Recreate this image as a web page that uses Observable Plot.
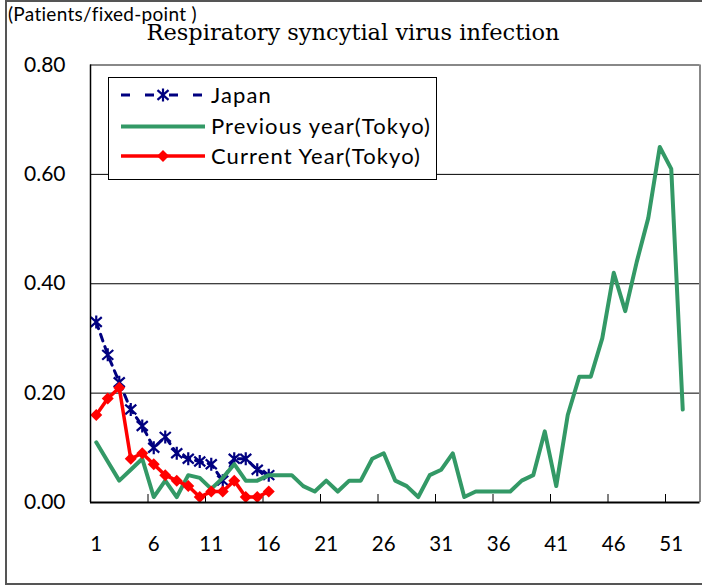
<!DOCTYPE html>
<html><head><meta charset="utf-8">
<script src="https://cdn.jsdelivr.net/npm/d3@7"></script>
<script src="https://cdn.jsdelivr.net/npm/@observablehq/plot@0.6"></script>
<style>
body{margin:0;background:#fff;}
#wrap{position:relative;width:702px;height:586px;overflow:hidden;font-family:Lato,sans-serif;color:#000;}
#border{position:absolute;left:5px;top:0px;width:720px;height:585px;border:2px solid #555;box-sizing:border-box;}
#plot{position:absolute;left:0;top:0;}
#unit{position:absolute;left:8px;top:2px;font-size:19px;letter-spacing:0.3px;white-space:nowrap;}
#title{position:absolute;left:0;width:706px;top:19px;text-align:center;font-family:"DejaVu Serif",serif;font-size:22.5px;white-space:nowrap;}
#legend{position:absolute;left:108px;top:77px;}
</style></head>
<body><div id="wrap"><div id="border"></div><div id="plot"></div>
<div id="unit">(Patients/fixed-point )</div>
<div id="title">Respiratory syncytial virus infection</div>
<div id="legend"></div></div>
<script>
// ---- data ----
const weeksJapan = [1,2,3,4,5,6,7,8,9,10,11,12,13,14,15,16];
const japan = [0.33,0.27,0.22,0.17,0.14,0.10,0.12,0.09,0.08,0.075,0.07,0.04,0.08,0.08,0.06,0.05];
const current = [0.16,0.19,0.21,0.08,0.09,0.07,0.05,0.04,0.03,0.01,0.02,0.02,0.04,0.01,0.01,0.02];
const previous = [0.11,0.075,0.04,0.06,0.08,0.01,0.04,0.01,0.05,0.045,0.025,0.045,0.07,0.04,0.04,0.05,0.05,0.05,0.03,0.02,
  0.04,0.02,0.04,0.04,0.08,0.09,0.04,0.03,0.01,0.05,0.06,0.09,0.01,0.02,0.02,0.02,0.02,0.04,0.05,0.13,
  0.03,0.16,0.23,0.23,0.30,0.42,0.35,0.44,0.52,0.65,0.61,0.17];
const seriesNames = ["Japan","Previous year(Tokyo)","Current Year(Tokyo)"];
const xTickLabels = [1,6,11,16,21,26,31,36,41,46,51];
const xTickMarks = [5.5,10.5,15.5,20.5,25.5,30.5,35.5,40.5,45.5,50.5];
const yTicks = [0,0.2,0.4,0.6,0.8];
const weekCount = 53;

const japanData = weeksJapan.map((w,i)=>({week:w,value:japan[i]}));
const currData = weeksJapan.map((w,i)=>({week:w,value:current[i]}));
const prevData = previous.map((v,i)=>({week:i+1,value:v}));

const star = {draw(ctx,size){const r=Math.sqrt(size/Math.PI);
  ctx.moveTo(0,-r);ctx.lineTo(0,r);
  ctx.moveTo(-0.85*r,-0.75*r);ctx.lineTo(0.85*r,0.75*r);
  ctx.moveTo(-0.85*r,0.75*r);ctx.lineTo(0.85*r,-0.75*r);}};
const diamond = {draw(ctx,size){const r=Math.sqrt(size/Math.PI);
  ctx.moveTo(0,-r);ctx.lineTo(r,0);ctx.lineTo(0,r);ctx.lineTo(-r,0);ctx.closePath();}};

const NAVY="#000080", GREEN="#339966", RED="#ff0000";

const chart = Plot.plot({
  width:702, height:586,
  marginLeft:90, marginRight:2.5, marginTop:64.5, marginBottom:84,
  x:{domain:[0.5, weekCount+0.5]},
  y:{domain:[0,0.8]},
  style:{fontFamily:"Lato, sans-serif", background:"transparent", color:"#000"},
  marks:[
    Plot.gridY(yTicks.slice(1,4), {stroke:"#000", strokeOpacity:1, strokeWidth:1}),
    Plot.ruleY([0.8], {stroke:"#888", strokeWidth:2}),
    Plot.ruleX([weekCount+0.5], {stroke:"#888", strokeWidth:2}),
    Plot.tickX(xTickMarks, {insetTop:429.5, stroke:"#000", strokeWidth:1}),
    Plot.axisY({ticks:yTicks, tickFormat:d3.format(".2f"), tickSize:0, tickPadding:25, fontSize:21, label:null}),
    Plot.axisX({ticks:xTickLabels, tickFormat:d=>String(d), tickSize:0, tickPadding:34, fontSize:20.5, label:null}),
    Plot.line(japanData, {x:"week", y:"value", stroke:NAVY, strokeWidth:3, strokeDasharray:"7,6"}),
    Plot.dot(japanData, {x:"week", y:"value", symbol:star, r:6.5, stroke:NAVY, strokeWidth:2.2, fill:"none"}),
    Plot.line(prevData, {x:"week", y:"value", stroke:GREEN, strokeWidth:4}),
    Plot.line(currData, {x:"week", y:"value", stroke:RED, strokeWidth:3.5}),
    Plot.dot(currData, {x:"week", y:"value", symbol:diamond, r:6, fill:RED, stroke:"none"}),
    Plot.ruleX([0.5], {stroke:"#000", strokeWidth:1.5}),
    Plot.ruleY([0], {stroke:"#000", strokeWidth:2})
  ]
});
document.getElementById("plot").appendChild(chart);

// legend
const lg=d3.select("#legend").append("svg").attr("width",330).attr("height",104);
lg.append("rect").attr("x",0.5).attr("y",0.5).attr("width",328).attr("height",102).attr("fill","#fff").attr("stroke","#000");
const rows=[18,49.5,79];
lg.append("line").attr("x1",13).attr("x2",97).attr("y1",rows[0]).attr("y2",rows[0]).attr("stroke",NAVY).attr("stroke-width",3).attr("stroke-dasharray","9,15");
lg.append("path").attr("transform",`translate(55,${rows[0]})`).attr("d",d3.symbol(star,Math.PI*6.5*6.5)()).attr("stroke",NAVY).attr("stroke-width",2.2).attr("fill","none");
lg.append("line").attr("x1",13).attr("x2",97).attr("y1",rows[1]).attr("y2",rows[1]).attr("stroke",GREEN).attr("stroke-width",4);
lg.append("line").attr("x1",13).attr("x2",97).attr("y1",rows[2]).attr("y2",rows[2]).attr("stroke",RED).attr("stroke-width",3.5);
lg.append("path").attr("transform",`translate(55,${rows[2]})`).attr("d",d3.symbol(diamond,Math.PI*6*6)()).attr("fill",RED);
seriesNames.forEach((n,i)=>{
  lg.append("text").attr("x",103).attr("y",rows[i]).attr("dy","0.36em").attr("font-family","Lato, sans-serif").attr("font-size",22).attr("letter-spacing","1.1px").text(n);
});
</script></body></html>
